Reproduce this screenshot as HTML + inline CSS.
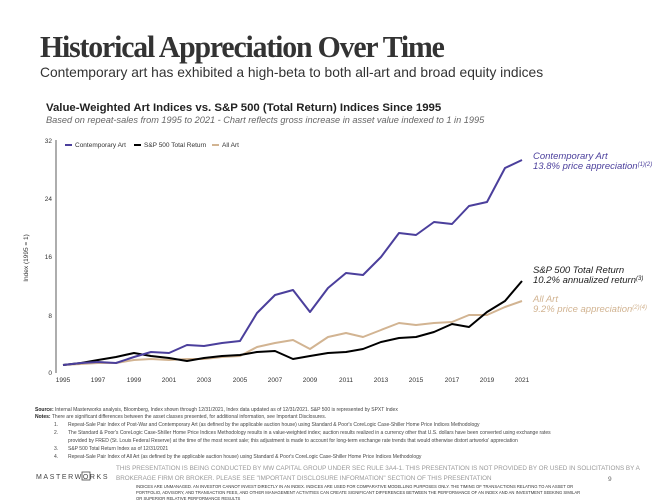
<!DOCTYPE html><html><head><style>
body{margin:0;width:670px;height:501px;background:#fff;position:relative;overflow:hidden;font-family:"Liberation Sans",sans-serif;}
.a{position:absolute;white-space:nowrap;}
</style></head><body>
<div class="a" style="left:40px;top:29px;font-family:'Liberation Serif',serif;font-weight:bold;font-size:31px;color:#333;letter-spacing:-1.2px;transform:scaleX(0.96);transform-origin:left">Historical Appreciation Over Time</div>
<div class="a" style="left:40px;top:65px;font-size:13.8px;color:#333;">Contemporary art has exhibited a high-beta to both all-art and broad equity indices</div>
<div class="a" style="left:46px;top:102px;font-size:11.4px;font-weight:bold;color:#222;">Value-Weighted Art Indices vs. S&amp;P 500 (Total Return) Indices Since 1995</div>
<div class="a" style="left:46px;top:115px;font-size:9.2px;font-style:italic;color:#666;">Based on repeat-sales from 1995 to 2021 - Chart reflects gross increase in asset value indexed to 1 in 1995</div>
<svg class="a" style="left:0;top:0" width="670" height="501" font-family="Liberation Sans" font-size="6.5">
<line x1="56" y1="140" x2="56" y2="373" stroke="#333" stroke-width="0.8"/>
<g fill="#333" text-anchor="end"><text x="52" y="143">32</text><text x="52" y="201">24</text><text x="52" y="259">16</text><text x="52" y="318">8</text><text x="52" y="375">0</text></g>
<text transform="translate(28,258) rotate(-90)" text-anchor="middle" fill="#333">Index (1995 = 1)</text>
<g fill="#333" text-anchor="middle">
<text x="63" y="382">1995</text><text x="98" y="382">1997</text><text x="134" y="382">1999</text><text x="169" y="382">2001</text><text x="204" y="382">2003</text><text x="240" y="382">2005</text><text x="275" y="382">2007</text><text x="310" y="382">2009</text><text x="346" y="382">2011</text><text x="381" y="382">2013</text><text x="416" y="382">2015</text><text x="452" y="382">2017</text><text x="487" y="382">2019</text><text x="522" y="382">2021</text></g>
<g font-size="6.5" fill="#333">
<line x1="65" y1="145" x2="72" y2="145" stroke="#4b3f9c" stroke-width="2"/><text x="75" y="147">Contemporary Art</text>
<line x1="134" y1="145" x2="141" y2="145" stroke="#000" stroke-width="2"/><text x="144" y="147">S&amp;P 500 Total Return</text>
<line x1="212" y1="145" x2="219" y2="145" stroke="#d2b492" stroke-width="2"/><text x="222" y="147">All Art</text></g>
<g fill="none" stroke-width="2" stroke-linejoin="round">
<polyline stroke="#d2b492" points="63,365 81,364 98,363 116,363 134,360 151,359 169,360 187,359 204,359 222,357 240,356 257,347 275,343 293,340 310,349 328,337 346,333 363,337 381,330 399,323 416,325 434,323 452,322 469,315 487,315 505,307 522,301"/>
<polyline stroke="#000" points="63,365 81,363 98,360 116,357 134,353 151,356 169,358 187,361 204,358 222,356 240,355 257,352 275,351 293,359 310,356 328,353 346,352 363,349 381,342 399,338 416,337 434,332 452,324 469,327 487,312 505,301 522,281"/>
<polyline stroke="#4b3f9c" points="63,365 81,363 98,362 116,363 134,357 151,352 169,353 187,345 204,346 222,343 240,341 257,313 275,295 293,290 310,312 328,288 346,273 363,275 381,257 399,233 416,235 434,222 452,224 469,206 487,202 505,168 522,160"/>
</g>
<g font-style="italic" font-size="9.5">
<text x="533" y="159" fill="#4b3f9c">Contemporary Art</text>
<text x="533" y="169" fill="#4b3f9c">13.8% price appreciation<tspan font-size="6" dy="-3">(1)(2)</tspan></text>
<text x="533" y="273" fill="#222">S&amp;P 500 Total Return</text>
<text x="533" y="283" fill="#222">10.2% annualized return<tspan font-size="6" dy="-3">(3)</tspan></text>
<text x="533" y="302" fill="#d2b492">All Art</text>
<text x="533" y="312" fill="#d2b492">9.2% price appreciation<tspan font-size="6" dy="-3">(2)(4)</tspan></text>
</g>
<g font-size="5" fill="#444">
<text x="35" y="411"><tspan font-weight="bold" fill="#222">Source:</tspan> Internal Masterworks analysis, Bloomberg, Index shown through 12/31/2021, Index data updated as of 12/31/2021. S&amp;P 500 is represented by SPXT Index</text>
<text x="35" y="418"><tspan font-weight="bold" fill="#222">Notes:</tspan> There are significant differences between the asset classes presented, for additional information, see Important Disclosures.</text>
<text x="54" y="426">1.</text><text x="68" y="426">Repeat-Sale Pair Index of Post-War and Contemporary Art (as defined by the applicable auction house) using Standard &amp; Poor's CoreLogic Case-Shiller Home Price Indices Methodology</text>
<text x="54" y="434">2.</text><text x="68" y="434">The Standard &amp; Poor's CoreLogic Case-Shiller Home Price Indices Methodology results in a value-weighted index; auction results realized in a currency other that U.S. dollars have been converted using exchange rates</text>
<text x="68" y="442">provided by FRED (St. Louis Federal Reserve) at the time of the most recent sale; this adjustment is made to account for long-term exchange rate trends that would otherwise distort artworks' appreciation</text>
<text x="54" y="450">3.</text><text x="68" y="450">S&amp;P 500 Total Return Index as of 12/31/2021</text>
<text x="54" y="458">4.</text><text x="68" y="458">Repeat-Sale Pair Index of All Art (as defined by the applicable auction house) using Standard &amp; Poor's CoreLogic Case-Shiller Home Price Indices Methodology</text>
</g>
<text x="36" y="479" font-size="7" letter-spacing="1.6" fill="#444">MASTERW<tspan>O</tspan>RKS</text>
<rect x="82" y="472" width="8" height="8" fill="none" stroke="#444" stroke-width="0.8"/>
<g font-size="6.3" fill="#999"><text x="116" y="470">THIS PRESENTATION  IS BEING CONDUCTED BY MW CAPITAL GROUP UNDER SEC RULE 3A4-1. THIS PRESENTATION  IS NOT PROVIDED BY OR USED IN SOLICITATIONS BY A</text>
<text x="116" y="480">BROKERAGE FIRM OR BROKER. PLEASE SEE "IMPORTANT DISCLOSURE INFORMATION" SECTION OF THIS PRESENTATION</text></g>
<text x="608" y="481" font-size="6.5" fill="#666">9</text>
<g font-size="4.2" fill="#333"><text x="136" y="488">INDICES ARE UNMANAGED. AN INVESTOR CANNOT INVEST DIRECTLY IN AN INDEX. INDICES ARE USED FOR COMPARATIVE MODELLING PURPOSES ONLY. THE TIMING OF TRANSACTIONS RELATING TO AN ASSET OR</text>
<text x="136" y="494">PORTFOLIO, ADVISORY, AND TRANSACTION FEES, AND OTHER MANAGEMENT ACTIVITIES CAN CREATE SIGNIFICANT DIFFERENCES BETWEEN THE PERFORMANCE OF AN INDEX AND AN INVESTMENT SEEKING SIMILAR</text>
<text x="136" y="500">OR SUPERIOR RELATIVE PERFORMANCE RESULTS</text></g>
</svg>
</body></html>
